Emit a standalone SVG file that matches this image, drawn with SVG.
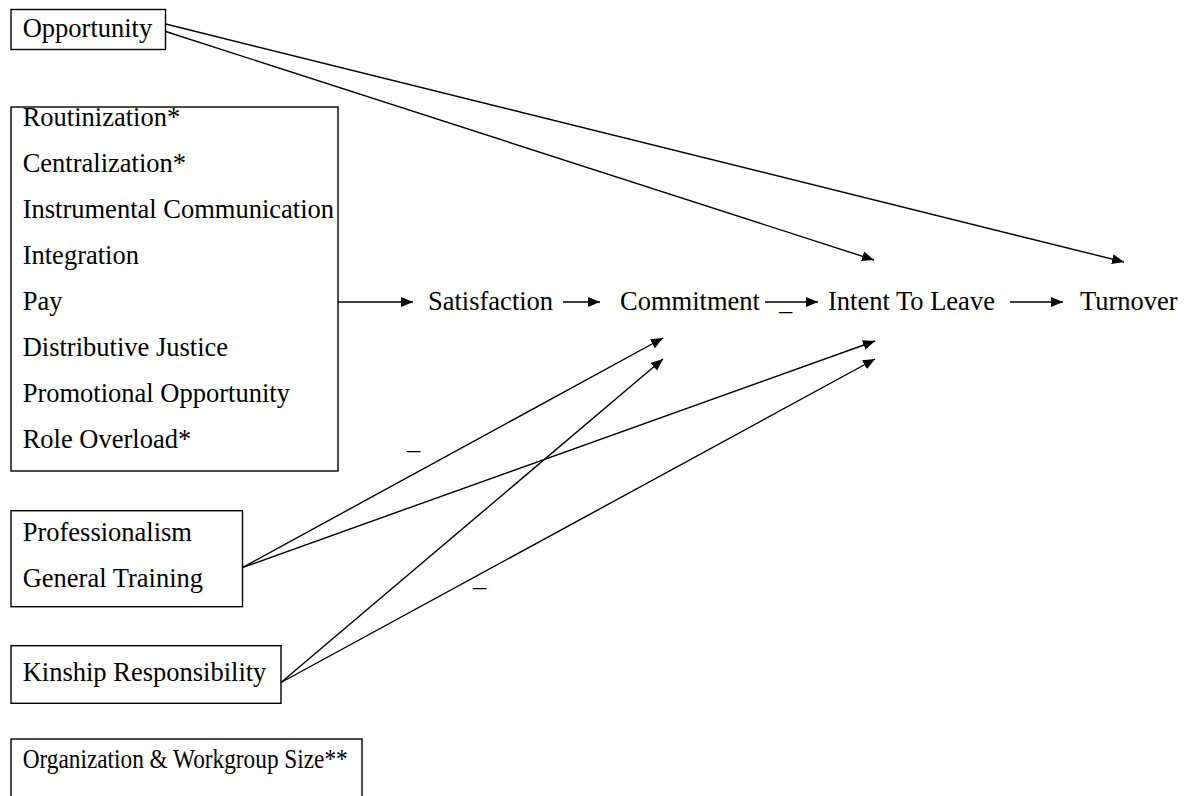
<svg xmlns="http://www.w3.org/2000/svg" width="1189" height="796" viewBox="0 0 1189 796">
  <style>
    .box { fill: #fff; stroke: #000; stroke-width: 1.4; }
    .t { font-family: "Liberation Serif", "Times New Roman", serif; font-size: 26.5px; fill: #000; }
    .c { stroke: #000; stroke-width: 1.4; fill: none; marker-end: url(#ah); }
  </style>
  <defs>
    <marker id="ah" markerUnits="userSpaceOnUse" markerWidth="14" markerHeight="11" refX="12" refY="5" orient="auto">
      <path d="M0,0 L12,5 L0,10 z" fill="#000"/>
    </marker>
  </defs>
  <rect width="1189" height="796" fill="#fff"/>

  <g id="opportunity">
    <rect class="box" x="11" y="9.5" width="154.5" height="40"/>
    <text class="t" x="22.7" y="37">Opportunity</text>
  </g>

  <g id="organizational-factors">
    <rect class="box" x="11" y="107" width="327" height="364"/>
    <text class="t" x="22.7" y="126">Routinization*</text>
    <text class="t" x="22.7" y="172">Centralization*</text>
    <text class="t" x="22.7" y="218">Instrumental Communication</text>
    <text class="t" x="22.7" y="264">Integration</text>
    <text class="t" x="22.7" y="310">Pay</text>
    <text class="t" x="22.7" y="356">Distributive Justice</text>
    <text class="t" x="22.7" y="402">Promotional Opportunity</text>
    <text class="t" x="22.7" y="448">Role Overload*</text>
  </g>

  <g id="professional">
    <rect class="box" x="11" y="510.7" width="231.5" height="96"/>
    <text class="t" x="22.7" y="541">Professionalism</text>
    <text class="t" x="22.7" y="587">General Training</text>
  </g>

  <g id="kinship">
    <rect class="box" x="11" y="645.7" width="270" height="57.6"/>
    <text class="t" x="22.7" y="681">Kinship Responsibility</text>
  </g>

  <g id="size">
    <rect class="box" x="11" y="739" width="351" height="70"/>
    <text class="t" x="22.7" y="768" textLength="325" lengthAdjust="spacingAndGlyphs">Organization &amp; Workgroup Size**</text>
  </g>

  <g id="satisfaction"><text class="t" x="428" y="310">Satisfaction</text></g>
  <g id="commitment"><text class="t" x="620" y="310">Commitment</text></g>
  <g id="intent"><text class="t" x="828" y="310">Intent To Leave</text></g>
  <g id="turnover"><text class="t" x="1080" y="310">Turnover</text></g>

  <g id="connectors">
    <line class="c" x1="165.7" y1="24" x2="1124" y2="262"/>
    <line class="c" x1="165.7" y1="31.5" x2="874" y2="260"/>
    <line class="c" x1="338" y1="302" x2="413" y2="302"/>
    <line class="c" x1="563" y1="302" x2="600" y2="302"/>
    <line class="c" x1="765" y1="302" x2="818" y2="302"/>
    <line class="c" x1="1010" y1="302" x2="1063" y2="302"/>
    <line class="c" x1="242.5" y1="567.5" x2="663" y2="338"/>
    <line class="c" x1="242.5" y1="567.5" x2="875" y2="341"/>
    <line class="c" x1="281" y1="682.5" x2="663" y2="359"/>
    <line class="c" x1="281" y1="682.5" x2="875" y2="359"/>
  </g>

  <g id="signs">
    <text class="t" x="779" y="310">_</text>
    <text class="t" x="407" y="449">_</text>
    <text class="t" x="473" y="586">_</text>
  </g>
</svg>
